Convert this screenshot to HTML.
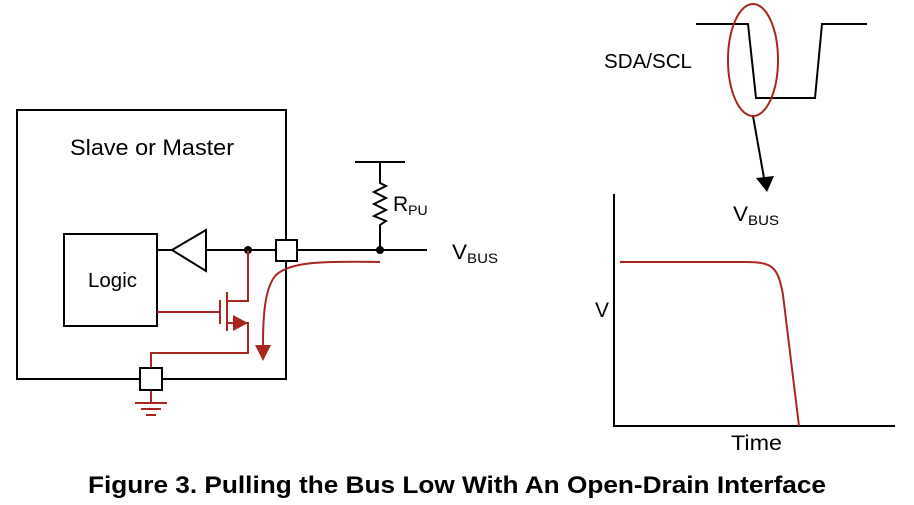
<!DOCTYPE html>
<html><head><style>
html,body{margin:0;padding:0;background:#fff;}
svg{display:block;}
text{font-family:"Liberation Sans",sans-serif;fill:#000;}
</style></head><body>
<svg width="914" height="505" viewBox="0 0 914 505" xmlns="http://www.w3.org/2000/svg">
<g fill="none" stroke="#000" stroke-width="2">
<rect x="17" y="110" width="269" height="269"/>
<rect x="64" y="234" width="93" height="92"/>
<polygon points="172,250 206,230 206,271" fill="#fff"/>
<line x1="157" y1="250" x2="172" y2="250"/>
<line x1="206" y1="250" x2="276" y2="250"/>
<line x1="297" y1="250" x2="427" y2="250"/>
<line x1="355" y1="162" x2="405" y2="162"/>
<polyline points="380,162 380,183 386,186 374,192 386,198 374,204 386,210 374,216 386,221 380,225 380,250"/>
<polyline points="696,24 748,24 756,98 815,98 822,24 867,24"/>
<line x1="753" y1="116" x2="764" y2="178"/>
<line x1="614" y1="194" x2="614" y2="427"/>
<line x1="613" y1="426" x2="895" y2="426"/>
</g>
<polygon points="756,178 774,176 767,192" fill="#000"/>
<circle cx="248" cy="250" r="4" fill="#000"/>
<circle cx="380" cy="250" r="4" fill="#000"/>
<rect x="276" y="240" width="21" height="21" fill="#fff" stroke="#000" stroke-width="2"/>
<g fill="none" stroke="#a8261e" stroke-width="2">
<polyline points="248,250 248,301 227,301"/>
<line x1="227" y1="292" x2="227" y2="331"/>
<line x1="220" y1="300" x2="220" y2="324"/>
<line x1="157" y1="312" x2="220" y2="312"/>
<polyline points="227,323 248,323 248,353 151,353 151,368"/>
<line x1="151" y1="390" x2="151" y2="403"/>
<line x1="135" y1="403" x2="167" y2="403"/>
<line x1="141" y1="409" x2="161" y2="409"/>
<line x1="146" y1="415" x2="156" y2="415"/>
<path d="M380,262 C320,261 290,262 276,275 C264,288 263,320 263,346"/>
<ellipse cx="753" cy="60" rx="25" ry="56"/>
<path d="M620,262 L745,262 C772,262 778,266 783,295 L799,426"/>
</g>
<polygon points="233,315 248,323 233,331" fill="#a8261e"/>
<polygon points="255,345 271,345 263,361" fill="#a8261e"/>
<rect x="140" y="368" width="22" height="22" fill="#fff" stroke="#000" stroke-width="2"/>
<text x="70" y="155" font-size="22" textLength="164" lengthAdjust="spacingAndGlyphs">Slave or Master</text>
<text x="88" y="287" font-size="20" textLength="49" lengthAdjust="spacingAndGlyphs">Logic</text>
<text x="393" y="211" font-size="21">R<tspan font-size="14" dy="4">PU</tspan></text>
<text x="452" y="259" font-size="21" textLength="46" lengthAdjust="spacingAndGlyphs">V<tspan font-size="14" dy="4">BUS</tspan></text>
<text x="604" y="68" font-size="20" textLength="88" lengthAdjust="spacingAndGlyphs">SDA/SCL</text>
<text x="733" y="221" font-size="21" textLength="46" lengthAdjust="spacingAndGlyphs">V<tspan font-size="14" dy="4">BUS</tspan></text>
<text x="595" y="317" font-size="21">V</text>
<text x="731" y="450" font-size="21" textLength="51" lengthAdjust="spacingAndGlyphs">Time</text>
<text x="88" y="493" font-size="24" font-weight="bold" textLength="738" lengthAdjust="spacingAndGlyphs">Figure 3. Pulling the Bus Low With An Open-Drain Interface</text>
</svg>
</body></html>
